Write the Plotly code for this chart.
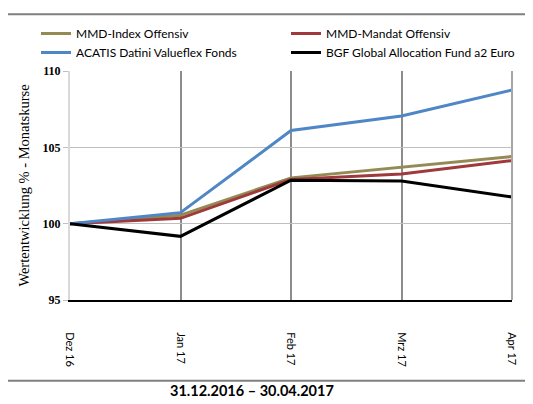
import plotly.graph_objects as go

months = ["Dez 16", "Jan 17", "Feb 17", "Mrz 17", "Apr 17"]
mmd_index = [100.0, 100.55, 103.0, 103.7, 104.4]
mmd_mandat = [100.0, 100.35, 102.9, 103.25, 104.13]
acatis = [100.0, 100.72, 106.1, 107.05, 108.75]
bgf = [100.0, 99.17, 102.85, 102.8, 101.75]

series = [
    ("MMD-Index Offensiv", mmd_index, "#948A54", "legend"),
    ("MMD-Mandat Offensiv", mmd_mandat, "#A0393B", "legend2"),
    ("ACATIS Datini Valueflex Fonds", acatis, "#4F86C6", "legend"),
    ("BGF Global Allocation Fund a2 Euro", bgf, "#000000", "legend2"),
]

fig = go.Figure()
for name, vals, col, lg in series:
    fig.add_trace(go.Scatter(x=months, y=vals, name=name, mode="lines", legend=lg,
                             line=dict(color=col, width=3)))

# page body has an 8px margin; size the figure to the visible window
OFF = 8
W, H = 533 - OFF, 404 - OFF
PL, PR, PT, PB = 70, 512, 70, 300  # plot area in page pixels
L, T = PL - OFF, PT - OFF
R = W - (PR - OFF)
B = H - (PB - OFF)
pw, ph = PR - PL, PB - PT

def px(x):
    return (x - PL) / pw

def py(y):
    return (PB - y) / ph

leg_common = dict(orientation="v", xanchor="left", yanchor="top",
                  font=dict(family="Lato", size=12), tracegroupgap=0,
                  bgcolor="rgba(0,0,0,0)", itemwidth=30)

fig.update_layout(
    width=W, height=H,
    margin=dict(l=L, r=R, t=T, b=B),
    paper_bgcolor="white", plot_bgcolor="white",
    font=dict(family="Lato", size=11, color="#000"),
    legend=dict(x=px(36), y=py(19), **leg_common),
    legend2=dict(x=px(286), y=py(19), **leg_common),
    showlegend=True,
)
fig.update_xaxes(
    type="category", range=[0, 4], showgrid=True, gridcolor="#8c8c8c", gridwidth=1.5,
    showline=True, linecolor="#000", linewidth=2, tickangle=90,
    ticks="", ticklabelstandoff=28, tickfont=dict(family="Lato", size=11),
    mirror=False,
)
fig.update_yaxes(
    range=[95, 110], dtick=5, showgrid=True, gridcolor="#bfbfbf", gridwidth=1,
    showline=True, linecolor="#d9d9d9", linewidth=2, ticks="outside", ticklen=5,
    tickcolor="#bfbfbf", zeroline=False,
    tickfont=dict(family="Liberation Serif", size=12, color="#000", weight="bold"),
    title=dict(text="Wertentwicklung % - Monatskurse", standoff=10,
               font=dict(family="Liberation Serif", size=14.5, color="#000")),
)
# right border of plot area
fig.add_shape(type="line", xref="paper", yref="paper", x0=1, x1=1, y0=0, y1=1,
              line=dict(color="#a6a6a6", width=2))
# outer frame
fig.add_shape(type="rect", xref="paper", yref="paper",
              x0=px(7), x1=px(545), y0=py(381), y1=py(13),
              line=dict(color="#808080", width=2), layer="below")
fig.add_annotation(text="<b>31.12.2016 – 30.04.2017</b>", xref="paper", yref="paper",
                   x=px(252), y=py(391), xanchor="center", yanchor="middle",
                   showarrow=False, font=dict(family="Lato", size=14.5, color="#000"))
fig.write_html("out.html")
